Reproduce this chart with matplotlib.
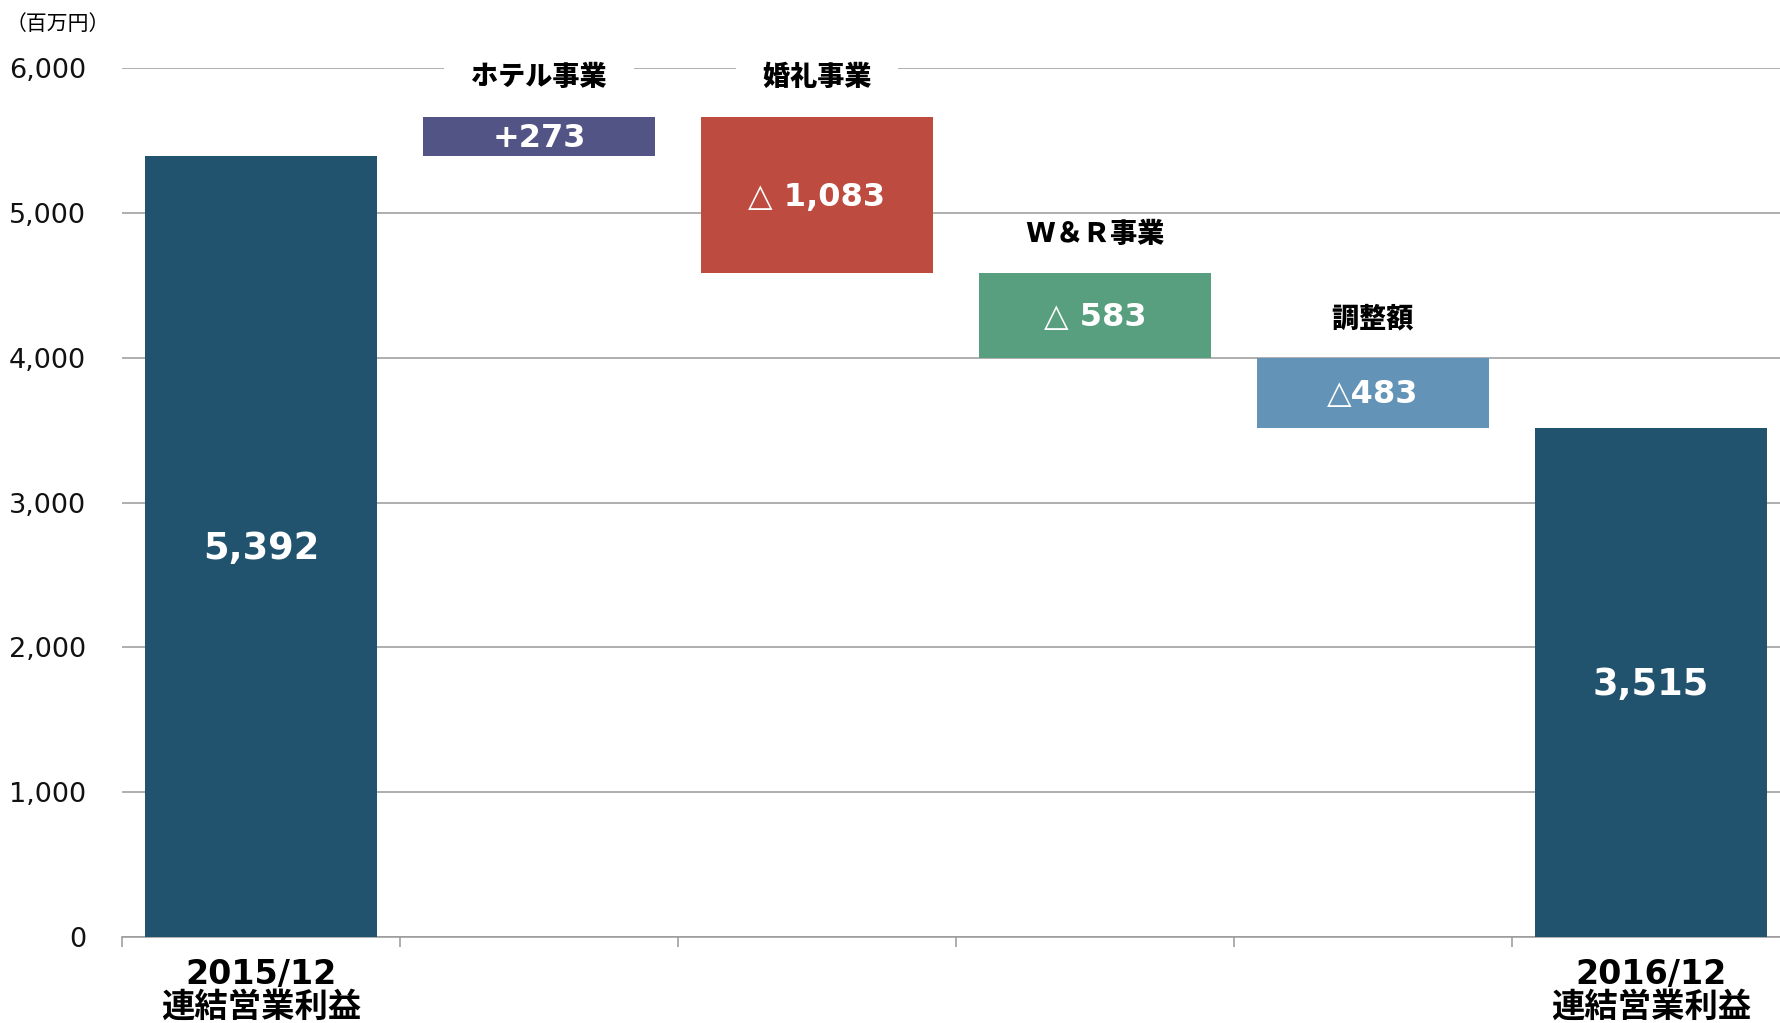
import numpy as np
import matplotlib
matplotlib.use('Agg')
import matplotlib.pyplot as plt

plt.rcParams['font.family'] = ['DejaVu Sans', 'Noto Sans CJK JP']

# data
values = [5392, 273, -1083, -583, -483, 3515]
is_total = [True, False, False, False, False, True]
bar_labels = ['5,392', '+273', '△ 1,083', '△ 583', '△483', '3,515']
head_labels = ['', 'ホテル事業', '婚礼事業', 'W＆Ｒ事業', '調整額', '']
cat_labels = ['2015/12\n連結営業利益', '', '', '', '', '2016/12\n連結営業利益']
colors = ['#21536F', '#535486', '#BE4B40', '#589F7F', '#6393B6', '#21536F']
yticks = [0, 1000, 2000, 3000, 4000, 5000, 6000]

# waterfall bottoms
bottoms = []
heights = []
run = 0
for v, tot in zip(values, is_total):
    if tot:
        bottoms.append(0)
        heights.append(v)
        run = v
    else:
        bottoms.append(min(run, run + v))
        heights.append(abs(v))
        run = run + v

fig = plt.figure(figsize=(17.81, 10.23), dpi=100)
ax = fig.add_axes([122/1781, 86/1023, 1668/1781, 869/1023])

x = np.arange(len(values))
ax.bar(x, heights, bottom=bottoms, width=0.835, color=colors, zorder=3)

ax.set_ylim(0, 6000)
ax.set_xlim(-0.5, len(values) - 0.5)
ax.set_yticks(yticks)
ax.set_yticklabels([f'{t:,}' for t in yticks], fontsize=19.5, color='#111111')
ax.tick_params(axis='y', length=0, pad=26)
ax.set_xticks(np.arange(len(values) + 1) - 0.5)
ax.set_xticklabels([])
ax.tick_params(axis='x', length=7, width=1.1, color='#999999', direction='out')

for s in ['left', 'right', 'top']:
    ax.spines[s].set_visible(False)
ax.spines['bottom'].set_color('#999999')
ax.spines['bottom'].set_linewidth(1.1)
ax.yaxis.grid(True, color='#999999', linewidth=1.1, zorder=0)
ax.set_axisbelow(True)

for i in range(len(values)):
    mid = bottoms[i] + heights[i] / 2
    fs = 26.5 if is_total[i] else 23
    ax.text(x[i], mid - 15, bar_labels[i], ha='center', va='center', color='white',
            fontsize=fs, fontweight='bold', zorder=4)
    if head_labels[i]:
        # spaces widen the white box sideways so it cuts the gridline
        ax.text(x[i], bottoms[i] + heights[i] + 265, '  ' + head_labels[i] + '  ',
                ha='center', va='center', fontsize=19.5, fontweight='heavy',
                color='black', zorder=2.5,
                bbox=dict(boxstyle='square,pad=0.3', fc='white', ec='none'))
    if cat_labels[i]:
        ax.annotate(cat_labels[i], xy=(x[i], 0), xytext=(0, -15), textcoords='offset points',
                    ha='center', va='top', fontsize=24, fontweight='bold',
                    linespacing=1.0, annotation_clip=False)

fig.text(0.003, 1 - 24/1023, '（百万円）', fontsize=15, va='center', ha='left',
         family=['Noto Sans CJK JP', 'DejaVu Sans'])

plt.savefig('out.png', dpi=100)
